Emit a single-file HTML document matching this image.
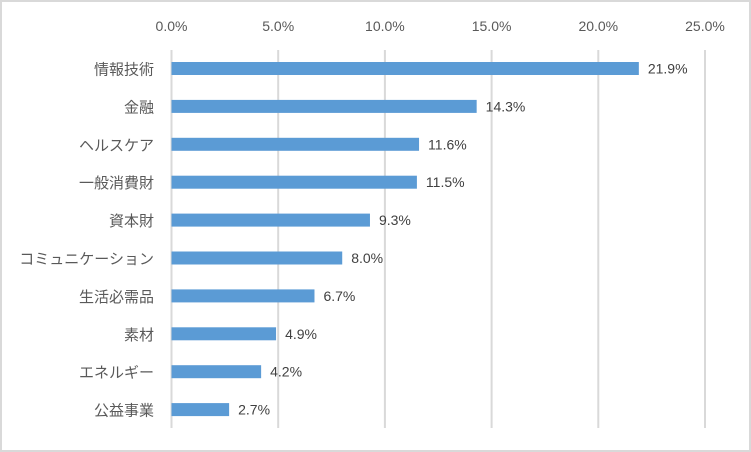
<!DOCTYPE html>
<html><head><meta charset="utf-8"><style>
body{margin:0;background:#fff}
svg{display:block;font-family:"Liberation Sans","Noto Sans CJK JP",sans-serif}
</style></head><body>
<svg id="chart" width="751" height="452" viewBox="0 0 751 452">
<rect x="1" y="1" width="749" height="450" fill="#fff" stroke="#d9d9d9" stroke-width="2"/>
<g id="grid"></g><g id="bars"></g><g id="labels"></g>
</svg>
<script>
const categories=["情報技術","金融","ヘルスケア","一般消費財","資本財","コミュニケーション","生活必需品","素材","エネルギー","公益事業"];
const values=[21.9,14.3,11.6,11.5,9.3,8.0,6.7,4.9,4.2,2.7];
const ticks=[0,5,10,15,20,25];
const x0=171.5,x1=705,maxV=25,yTop=50,yBot=428,row0=68.5,rowStep=37.9,barH=13;
const ns="http://www.w3.org/2000/svg";
const xs=v=>x0+(x1-x0)*v/maxV;
const ys=i=>row0+rowStep*i;
function mk(t,a,p,txt){const e=document.createElementNS(ns,t);for(const k in a)e.setAttribute(k,a[k]);if(txt!==undefined)e.textContent=txt;p.appendChild(e);return e;}
const g=document.getElementById('grid'),b=document.getElementById('bars'),l=document.getElementById('labels');
ticks.forEach(t=>{
 const ln=mk('line',{x1:xs(t),x2:xs(t),y1:yTop,y2:yBot,stroke:'#d9d9d9','stroke-width':2},g);
 
 
 const tx=mk('text',{x:xs(t),y:31,'text-anchor':'middle','font-size':14,fill:'#595959'},g,t.toFixed(1)+'%');
 
 
});
values.forEach((v,i)=>{
 const r=mk('rect',{x:x0,y:ys(i)-barH/2,width:xs(v)-x0,height:barH,fill:'#5b9bd5'},b);
 
 
 const vt=mk('text',{x:xs(v)+9,y:ys(i)+5,'font-size':14,fill:'#404040'},l,v.toFixed(1)+'%');
 
 
 const ct=mk('text',{x:154,y:ys(i)+6,'text-anchor':'end','font-size':15,fill:'#595959'},l,categories[i]);
 
 
});
</script>
</body></html>
